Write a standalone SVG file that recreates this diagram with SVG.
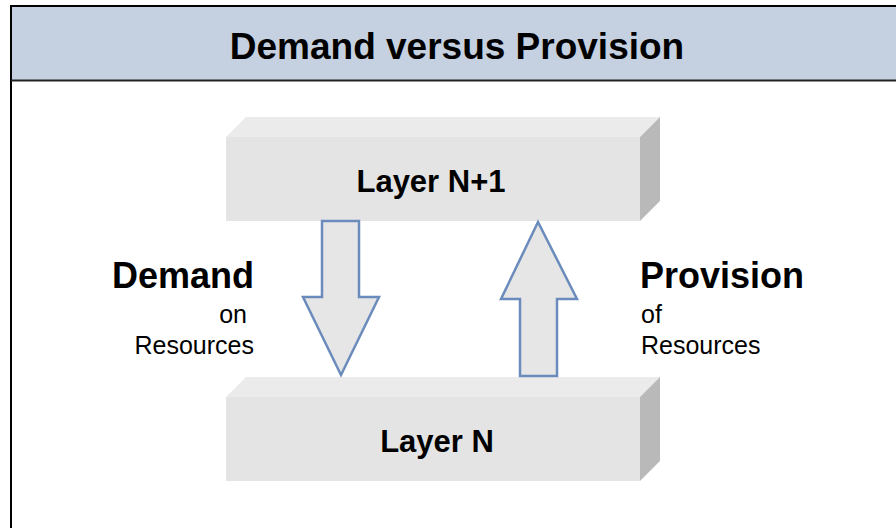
<svg xmlns="http://www.w3.org/2000/svg" width="896" height="528" viewBox="0 0 896 528">
<style>
.t{font-family:"Liberation Sans",Arial,sans-serif;fill:#000}
.b{font-weight:bold}
.top{fill:#ebebeb}
.front{fill:#e4e4e4}
.side{fill:#b9b9b9}
.arrow{fill:#e6e6e6;stroke:#6a8bbb;stroke-width:2.5;stroke-linejoin:miter}
</style>
<rect x="0" y="0" width="896" height="528" fill="#fff"/>
<g id="frame">
<rect x="11" y="6" width="900" height="74" fill="#c5d0e0"/>
<rect x="11" y="6" width="900" height="540" fill="none" stroke="#000" stroke-width="2"/>
<line x1="11" y1="80.5" x2="896" y2="80.5" stroke="#222" stroke-width="2"/>
<text class="t b" x="457" y="59" font-size="37" text-anchor="middle">Demand versus Provision</text>
</g>
<g id="layerN1">
<polygon class="top" points="226,137 246,117 660,117 640,137"/>
<polygon class="side" points="640,137 660,117 660,201 640,221"/>
<rect class="front" x="226" y="137" width="414" height="84"/>
<text class="t b" x="431" y="192" font-size="31" text-anchor="middle">Layer N+1</text>
</g>
<g id="layerN">
<polygon class="top" points="226,397 246,377 660,377 640,397"/>
<polygon class="side" points="640,397 660,377 660,461 640,481"/>
<rect class="front" x="226" y="397" width="414" height="84"/>
<text class="t b" x="437" y="452" font-size="31" text-anchor="middle">Layer N</text>
</g>
<g id="connectors">
<polygon class="arrow" points="322,221 359,221 359,297 379,297 341,375 303,297 322,297"/>
<polygon class="arrow" points="538,222 577,299 557,299 557,376 520,376 520,299 501,299"/>
</g>
<g id="demandLabel">
<text class="t b" x="254" y="288" font-size="36" text-anchor="end">Demand</text>
<text class="t" x="247" y="323" font-size="25" text-anchor="end">on</text>
<text class="t" x="254" y="354" font-size="25" text-anchor="end">Resources</text>
</g>
<g id="provisionLabel">
<text class="t b" x="640" y="288" font-size="36">Provision</text>
<text class="t" x="641" y="323" font-size="25">of</text>
<text class="t" x="641" y="354" font-size="25">Resources</text>
</g>
</svg>
